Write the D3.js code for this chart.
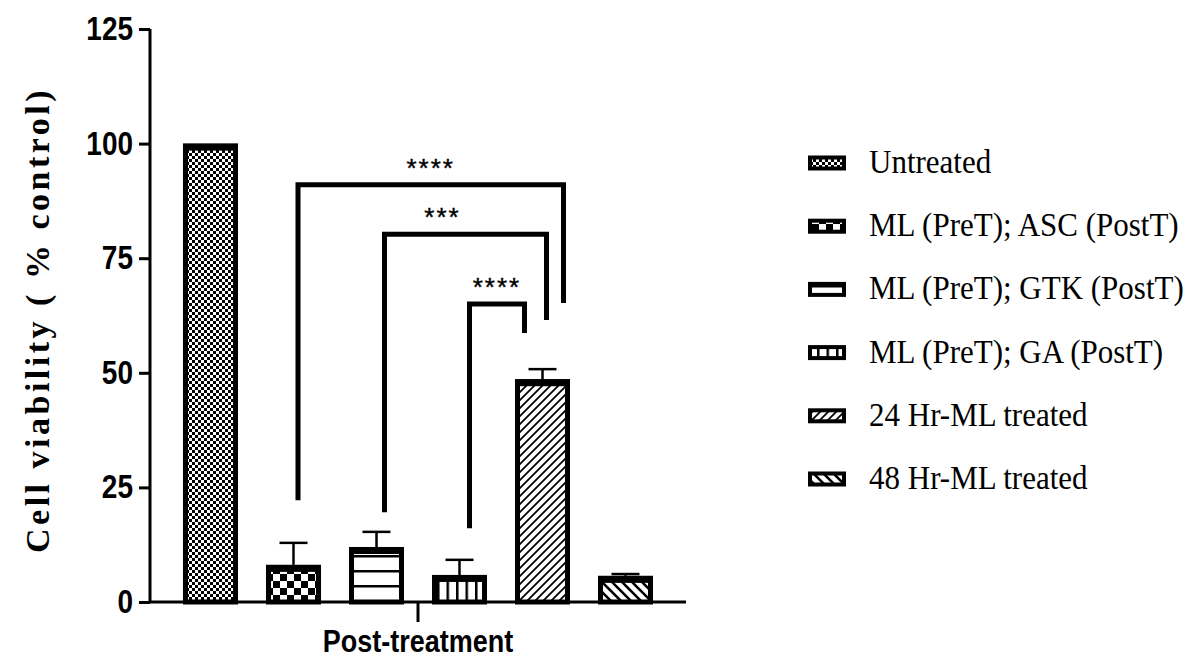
<!DOCTYPE html>
<html>
<head>
<meta charset="utf-8">
<script src="https://cdn.jsdelivr.net/npm/d3@7"></script>
<style>
  html, body { margin: 0; padding: 0; background: #fff; }
  svg { display: block; }
</style>
</head>
<body>
<svg id="chart" width="1184" height="660"></svg>
<script>
// Groups, means and upward SD error bars (% of control)
const groups = ["Untreated", "ML (PreT); ASC (PostT)", "ML (PreT); GTK (PostT)", "ML (PreT); GA (PostT)", "24 Hr-ML treated", "48 Hr-ML treated"];
const means = [100, 8.1, 12, 5.9, 48.6, 5.7];
const errors = [0, 4.8, 3.3, 3.3, 2.2, 0.4];
const patternIds = ["p-fine-check", "p-big-check", "p-hlines", "p-vlines", "p-fwd", "p-back"];
const yTicks = [0, 25, 50, 75, 100, 125];
// Significance brackets: compared groups, bracket level, leg end levels, stars
const brackets = [
  { from: 1, to: 4, top: 91, leftEnd: 22.2, rightEnd: 65.2, label: "****" },
  { from: 2, to: 4, top: 80.2, leftEnd: 19.6, rightEnd: 61.5, label: "***" },
  { from: 3, to: 4, top: 65, leftEnd: 16.1, rightEnd: 58.7, label: "****" }
];
// Horizontal leg offsets from the bar centres, so nested brackets do not overlap
const legShiftLeft = [4.5, 8, 10];
const legShiftRight = [21, 4, -18];
const labelShift = [0, -23, 0];

const svg = d3.select("#chart");
const defs = svg.append("defs");

// Fill patterns
function pat(id, w, h) {
  const p = defs.append("pattern").attr("id", id).attr("patternUnits", "userSpaceOnUse")
    .attr("width", w).attr("height", h);
  p.append("rect").attr("width", w).attr("height", h).attr("fill", "#fff");
  return p;
}
let p = pat("p-fine-check", 6, 6);
p.append("rect").attr("width", 3).attr("height", 3).attr("fill", "#000");
p.append("rect").attr("x", 3).attr("y", 3).attr("width", 3).attr("height", 3).attr("fill", "#000");
p = pat("p-big-check", 14, 14);
p.append("rect").attr("width", 7).attr("height", 7).attr("fill", "#000");
p.append("rect").attr("x", 7).attr("y", 7).attr("width", 7).attr("height", 7).attr("fill", "#000");
p = pat("p-hlines", 10, 15);
p.append("rect").attr("y", 0).attr("width", 10).attr("height", 2.5).attr("fill", "#000");
p = pat("p-vlines", 9.5, 10);
p.append("rect").attr("x", 0).attr("width", 2.5).attr("height", 10).attr("fill", "#000");
p = pat("p-fwd", 8, 8);
p.append("path").attr("d", "M-2,2 L2,-2 M0,8 L8,0 M6,10 L10,6").attr("stroke", "#000").attr("stroke-width", 1.8);
p = pat("p-back", 10, 10);
p.append("path").attr("d", "M-2,8 L2,12 M0,0 L10,10 M8,-2 L12,2").attr("stroke", "#000").attr("stroke-width", 2.6);

// Scales
const y = d3.scaleLinear().domain([0, 125]).range([602, 29]);
const x = d3.scaleBand().domain(groups).range([183, 653]).paddingInner(28 / 83).paddingOuter(0);

const sans = "'Liberation Sans', Arial, sans-serif";
const serif = "'Liberation Serif', 'Times New Roman', serif";

// Y axis
const yAxis = svg.append("g").attr("transform", "translate(150,0)")
  .call(d3.axisLeft(y).tickValues(yTicks).tickSize(11).tickPadding(6));
yAxis.select(".domain").attr("stroke-width", 3).attr("d", `M0,${y(125)}V${y(0)}`);
yAxis.selectAll(".tick line").attr("stroke-width", 3);
yAxis.selectAll(".tick text").attr("font-family", sans).attr("font-weight", "bold")
  .attr("font-size", 28).attr("fill", "#000").attr("transform", "scale(1,1.18)");

// X axis
const xAxisY = y(0);
svg.append("line").attr("x1", 150).attr("x2", 686).attr("y1", xAxisY).attr("y2", xAxisY)
  .attr("stroke", "#000").attr("stroke-width", 3);
const groupCenter = (x(groups[0]) + x(groups[groups.length - 1]) + x.bandwidth()) / 2;
svg.append("line").attr("x1", groupCenter).attr("x2", groupCenter).attr("y1", xAxisY).attr("y2", xAxisY + 20)
  .attr("stroke", "#000").attr("stroke-width", 3);
svg.append("text").attr("transform", `translate(${groupCenter},652) scale(1,1.15)`).attr("text-anchor", "middle")
  .attr("font-family", sans).attr("font-weight", "bold").attr("font-size", 27).text("Post-treatment");

// Y title
svg.append("text").attr("transform", `translate(49,${320}) rotate(-90)`).attr("text-anchor", "middle")
  .attr("font-family", serif).attr("font-weight", "bold").attr("font-size", 34)
  .attr("letter-spacing", 3.5).text("Cell viability ( % control)");

// Error bars (upward only)
const errG = svg.append("g");
groups.forEach((g, i) => {
  if (!errors[i]) return;
  const cx = x(g) + x.bandwidth() / 2;
  const top = y(means[i] + errors[i]);
  errG.append("line").attr("x1", cx).attr("x2", cx).attr("y1", y(means[i])).attr("y2", top)
    .attr("stroke", "#000").attr("stroke-width", 2.5);
  errG.append("line").attr("x1", cx - 14).attr("x2", cx + 14).attr("y1", top).attr("y2", top)
    .attr("stroke", "#000").attr("stroke-width", 2.5);
});

// Bars
const sw = 5;
const barG = svg.append("g");
groups.forEach((g, i) => {
  const x0 = x(g), w = x.bandwidth();
  const top = y(means[i]);
  barG.append("rect").attr("x", x0 + sw / 2).attr("y", top + sw / 2)
    .attr("width", w - sw).attr("height", Math.max(0, xAxisY - top - sw / 2))
    .attr("fill", `url(#${patternIds[i]})`).attr("stroke", "#000").attr("stroke-width", sw);
  barG.append("rect").attr("x", x0).attr("y", top).attr("width", w).attr("height", 7).attr("fill", "#000");
});

// Significance brackets
const brG = svg.append("g");
brackets.forEach((b, k) => {
  const xl = x(groups[b.from]) + x.bandwidth() / 2 + legShiftLeft[k];
  const xr = x(groups[b.to]) + x.bandwidth() / 2 + legShiftRight[k];
  const yt = y(b.top);
  brG.append("path").attr("d", `M${xl},${y(b.leftEnd)}V${yt}H${xr}V${y(b.rightEnd)}`)
    .attr("fill", "none").attr("stroke", "#000").attr("stroke-width", 5).attr("stroke-linejoin", "miter");
  brG.append("text").attr("x", (xl + xr) / 2 + labelShift[k])
    .attr("y", yt - 8).attr("text-anchor", "middle")
    .attr("font-family", sans).attr("font-size", 26).attr("letter-spacing", 2)
    .attr("stroke", "#000").attr("stroke-width", 0.4).text(b.label);
});

// Legend
const leg = svg.append("g");
groups.forEach((g, i) => {
  const cy = 163 + i * 63.2;
  leg.append("rect").attr("x", 810).attr("y", cy - 5.5).attr("width", 34).attr("height", 11)
    .attr("fill", `url(#${patternIds[i]})`).attr("stroke", "#000").attr("stroke-width", 4);
  leg.append("text").attr("transform", `translate(869,${cy + 10}) scale(1,1.12)`).attr("font-family", serif)
    .attr("font-size", 31).attr("fill", "#000").text(g);
});
</script>
</body>
</html>
